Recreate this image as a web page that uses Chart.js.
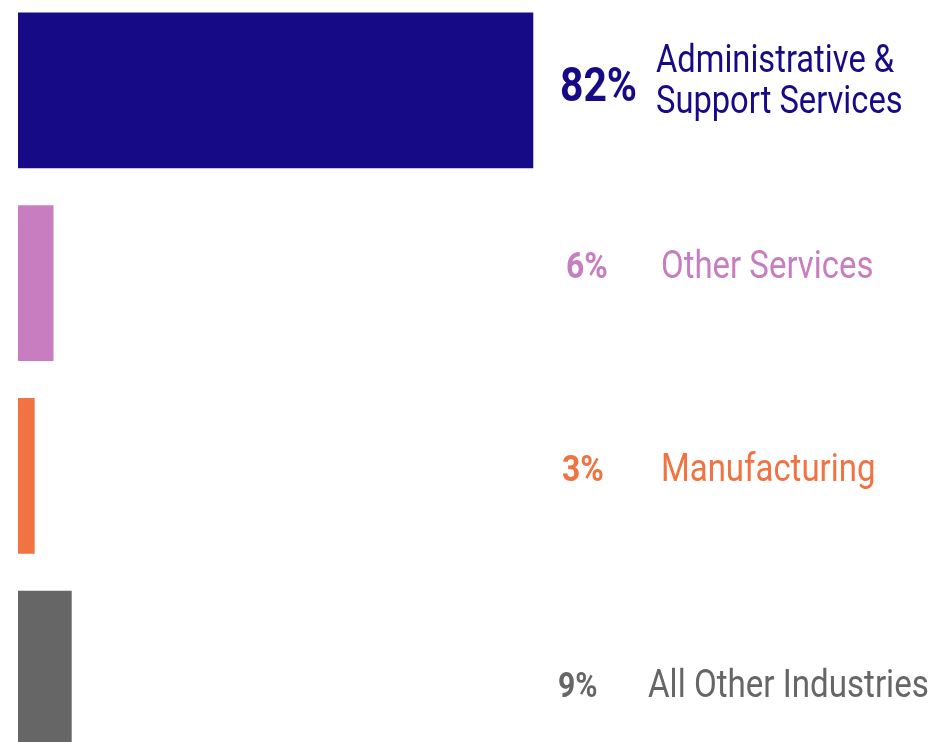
<!DOCTYPE html>
<html>
<head>
<meta charset="utf-8">
<script src="https://cdn.jsdelivr.net/npm/chart.js@4"></script>
<style>
  html, body { margin: 0; padding: 0; background: #fff; overflow: hidden; }
  #wrap { position: absolute; left: 0; top: -6px; width: 928px; height: 771px; }
</style>
</head>
<body>
<div id="wrap"><canvas id="industryChart"></canvas></div>
<script>
// data
const industries = [["Administrative &", "Support Services"], ["Other Services"], ["Manufacturing"], ["All Other Industries"]];
const shares = [82, 5.6, 2.6, 8.5];
const colors = ["#170a87", "#c87dc0", "#f07341", "#666666"];

// text placement per row (offsets from the bar centre)
const textLayout = [
  { pctX: 560, pctDy: 11, pctSize: 47.5, labX: 656, labDy: [-18, 23], labSize: 38 },
  { pctX: 566, pctDy: -5, pctSize: 37, labX: 661, labDy: [-5], labSize: 38.3 },
  { pctX: 562, pctDy: 5, pctSize: 37, labX: 661, labDy: [5], labSize: 38.3 },
  { pctX: 558, pctDy: 28, pctSize: 35, labX: 648, labDy: [28], labSize: 38.5 }
];
const squeeze = 0.86; // fake a condensed face

const labelPlugin = {
  id: 'sideLabels',
  afterDatasetsDraw(chart) {
    const ctx = chart.ctx;
    const bars = chart.getDatasetMeta(0).data;
    bars.forEach((bar, i) => {
      const t = textLayout[i];
      ctx.save();
      ctx.fillStyle = colors[i];
      ctx.textBaseline = 'alphabetic';
      ctx.scale(squeeze, 1);
      ctx.font = `bold ${t.pctSize}px Roboto`;
      ctx.fillText(Math.round(shares[i]) + '%', t.pctX / squeeze, bar.y + t.pctDy);
      ctx.font = `${t.labSize}px Roboto`;
      industries[i].forEach((line, j) => {
        ctx.fillText(line, t.labX / squeeze, bar.y + t.labDy[j]);
      });
      ctx.restore();
    });
  }
};

new Chart(document.getElementById('industryChart'), {
  type: 'bar',
  data: {
    labels: industries.map(l => l.join(' ')),
    datasets: [{
      data: shares,
      backgroundColor: colors,
      barThickness: 155,
      borderWidth: 0
    }]
  },
  options: {
    indexAxis: 'y',
    responsive: true,
    maintainAspectRatio: false,
    animation: false,
    layout: { padding: { left: 18, right: 282, top: 0, bottom: 0 } },
    plugins: { legend: { display: false }, tooltip: { enabled: false } },
    scales: {
      x: { display: false, min: 0, max: 100 },
      y: { display: false }
    }
  },
  plugins: [labelPlugin]
});
</script>
</body>
</html>
